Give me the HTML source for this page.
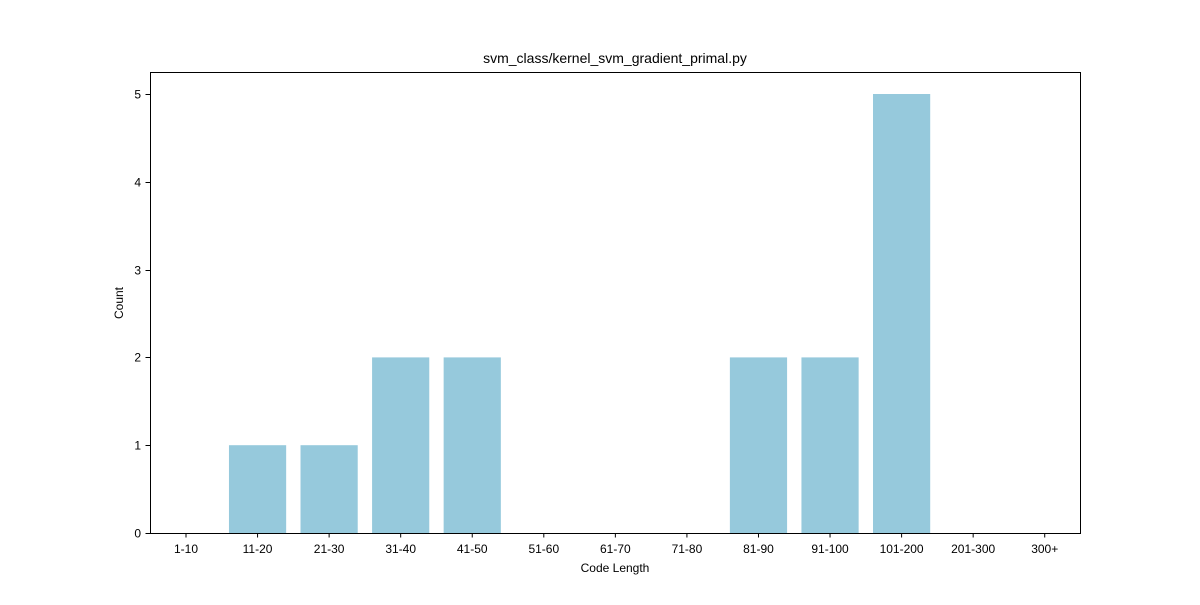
<!DOCTYPE html>
<html><head><meta charset="utf-8"><style>
body{margin:0;background:#fff;}
svg text{font-family:"Liberation Sans","DejaVu Sans",sans-serif;fill:#000;}
</style></head><body>
<svg id="chart" width="1200" height="600">
<rect width="1200" height="600" fill="#fff"/>
<text x="615" y="63" font-size="14" text-anchor="middle">svm_class/kernel_svm_gradient_primal.py</text>
<g id="bars"></g>
<rect x="150.5" y="72.5" width="930" height="461" fill="none" stroke="#000" stroke-width="1"/>
<g id="xt"></g><g id="yt"></g>
<text x="615" y="572" font-size="12" text-anchor="middle">Code Length</text>
<text x="123" y="303" font-size="12" text-anchor="middle" transform="rotate(-90 123 303)">Count</text>
</svg>
<script>
const categories=["1-10","11-20","21-30","31-40","41-50","51-60","61-70","71-80","81-90","91-100","101-200","201-300","300+"];
const counts=[0,1,1,2,2,0,0,0,2,2,5,0,0];
const yTicks=[0,1,2,3,4,5];
const NS="http://www.w3.org/2000/svg";
function xPos(i){return 186+71.56*i;}
function yPos(v){return 533-87.8*v;}
const bars=document.getElementById('bars'),xt=document.getElementById('xt'),yt=document.getElementById('yt');
categories.forEach((c,i)=>{
  const v=counts[i];
  if(v>0){
    const r=document.createElementNS(NS,'rect');
    r.setAttribute('x',xPos(i)-28.6);r.setAttribute('width',57.2);
    r.setAttribute('y',yPos(v));r.setAttribute('height',yPos(0)-yPos(v));
    r.setAttribute('fill','#96c9dc');
    
    
    bars.appendChild(r);
  }
  const l=document.createElementNS(NS,'line');
  l.setAttribute('x1',xPos(i));l.setAttribute('x2',xPos(i));l.setAttribute('y1',533);l.setAttribute('y2',537.5);l.setAttribute('stroke','#000');
  
  
  xt.appendChild(l);
  const t=document.createElementNS(NS,'text');
  t.setAttribute('x',xPos(i));t.setAttribute('y',553);t.setAttribute('font-size','12');t.setAttribute('text-anchor','middle');
  t.textContent=c;
  
  
  xt.appendChild(t);
});
yTicks.forEach(v=>{
  const y=Math.round(yPos(v))+0.5;
  const l=document.createElementNS(NS,'line');
  l.setAttribute('x1',145.5);l.setAttribute('x2',150.5);l.setAttribute('y1',y);l.setAttribute('y2',y);l.setAttribute('stroke','#000');
  
  
  yt.appendChild(l);
  const t=document.createElementNS(NS,'text');
  t.setAttribute('x',141);t.setAttribute('y',y+4);t.setAttribute('font-size','12');t.setAttribute('text-anchor','end');
  t.textContent=v;
  
  
  yt.appendChild(t);
});
</script>
</body></html>
